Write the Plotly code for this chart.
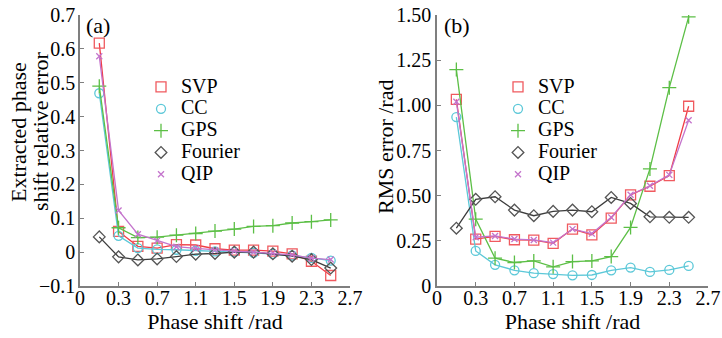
import plotly.graph_objects as go

x = [0.1, 0.3, 0.5, 0.7, 0.9, 1.1, 1.3, 1.5, 1.7, 1.9, 2.1, 2.3, 2.5]

# (a) Extracted phase shift relative error
a_svp = [0.617, 0.061, 0.017, 0.012, 0.022, 0.021, 0.010, 0.006, 0.006, 0.003, -0.005, -0.027, -0.069]
a_cc = [0.469, 0.048, 0.012, 0.008, 0.007, 0.004, 0.002, 0.000, -0.002, -0.005, -0.010, -0.017, -0.025]
a_gps = [0.490, 0.072, 0.043, 0.044, 0.050, 0.055, 0.062, 0.068, 0.076, 0.078, 0.086, 0.090, 0.095]
a_fourier = [0.045, -0.014, -0.023, -0.020, -0.013, -0.006, -0.004, 0.000, 0.000, -0.005, -0.012, -0.022, -0.047]
a_qip = [0.578, 0.123, 0.053, 0.034, 0.016, 0.011, 0.006, 0.003, 0.000, -0.003, -0.008, -0.018, -0.022]

# (b) RMS error /rad
b_svp = [1.033, 0.260, 0.275, 0.256, 0.254, 0.236, 0.315, 0.283, 0.376, 0.504, 0.552, 0.611, 0.995]
b_cc = [0.935, 0.194, 0.117, 0.087, 0.071, 0.066, 0.059, 0.061, 0.087, 0.102, 0.078, 0.089, 0.111]
b_gps = [1.198, 0.370, 0.154, 0.130, 0.139, 0.106, 0.135, 0.139, 0.163, 0.324, 0.648, 1.098, 1.490]
b_fourier = [0.320, 0.480, 0.494, 0.420, 0.389, 0.413, 0.420, 0.411, 0.490, 0.457, 0.383, 0.380, 0.380]
b_qip = [1.020, 0.270, 0.277, 0.260, 0.255, 0.240, 0.315, 0.290, 0.380, 0.505, 0.555, 0.615, 0.917]

names = ["SVP", "CC", "GPS", "Fourier", "QIP"]
x_tickvals = [-0.1, 0.3, 0.7, 1.1, 1.5, 1.9, 2.3, 2.7]
x_ticktext = ["0", "0.3", "0.7", "1.1", "1.5", "1.9", "2.3", "2.7"]
b_tickvals = [0, 0.25, 0.5, 0.75, 1.0, 1.25, 1.5]
b_ticktext = ["0", "0.25", "0.50", "0.75", "1.00", "1.25", "1.50"]

styles = {
    "SVP": dict(line="#f03c46", marker="#f05a5f", symbol="square-open", size=10),
    "CC": dict(line="#5cc8d8", marker="#5cc8d8", symbol="circle-open", size=9),
    "GPS": dict(line="#5cbf46", marker="#5cbf46", symbol="cross-thin-open", size=10),
    "Fourier": dict(line="#3c3c3c", marker="#555555", symbol="diamond-open", size=9),
    "QIP": dict(line="#c474cc", marker="#c474cc", symbol="x-thin-open", size=6),
}

FONT = "Liberation Serif"
W, H = 722, 338
fig = go.Figure()

for series, xa, ya, leg in [
    ([a_svp, a_cc, a_gps, a_fourier, a_qip], "x", "y", "legend"),
    ([b_svp, b_cc, b_gps, b_fourier, b_qip], "x2", "y2", "legend2"),
]:
    for name, vals in zip(names, series):
        s = styles[name]
        fig.add_trace(go.Scatter(
            x=x, y=vals, mode="lines", showlegend=False,
            xaxis=xa, yaxis=ya, hoverinfo="skip",
            line=dict(color=s["line"], width=1.3),
        ))
        fig.add_trace(go.Scatter(
            x=x, y=vals, mode="markers", legend=leg,
            name='<span style="font-size:20px">%s</span>' % name,
            xaxis=xa, yaxis=ya,
            marker=dict(symbol=s["symbol"], size=s["size"], color=s["marker"],
                        line=dict(width=1.3, color=s["marker"])),
        ))

axis_common = dict(
    showline=True, linecolor="#7f7f7f", linewidth=1.5, mirror=False,
    ticks="inside", ticklen=4, tickcolor="#7f7f7f", tickwidth=1.2,
    showgrid=False, zeroline=False, automargin=False,
    tickfont=dict(family=FONT, size=20, color="black"),
)

leg_common = dict(xanchor="left", yanchor="top", bgcolor="rgba(0,0,0,0)",
                  font=dict(family=FONT, size=14.5, color="black"),
                  itemwidth=30, tracegroupgap=0)

ydom = [1 - 286/H, 1 - 15/H]

def px(xp, yp):
    return xp / W, 1 - yp / H

ann_specs = [
    ("Extracted phase", 18, 132, -90),
    ("shift relative error", 40, 132, -90),
    ("RMS error /rad", 385, 147, -90),
    ("(a)", 98, 25, 0),
    ("(b)", 457, 25, 0),
]
anns = []
for text, ax, ay, ang in ann_specs:
    xx, yy = px(ax, ay)
    anns.append(dict(text=text, textangle=ang, showarrow=False,
                     xref="paper", yref="paper", x=xx, y=yy,
                     xanchor="center", yanchor="middle",
                     font=dict(family=FONT, size=22, color="black")))

l1x, l1y = px(141, 71)
l2x, l2y = px(498, 71)

fig.update_layout(
    width=W, height=H,
    margin=dict(l=0, r=0, t=0, b=0, pad=0),
    paper_bgcolor="white", plot_bgcolor="white",
    font=dict(family=FONT, size=20, color="black"),
    xaxis=dict(domain=[80/W, 350/W], range=[-0.1, 2.7], tickvals=x_tickvals,
               ticktext=x_ticktext, anchor="y", ticklabelstandoff=-7,
               title=dict(text="Phase shift /rad", font=dict(family=FONT, size=22), standoff=0),
               **axis_common),
    yaxis=dict(domain=ydom, range=[-0.1, 0.7], dtick=0.1, tick0=0,
               anchor="x", ticklabelstandoff=-1, **axis_common),
    xaxis2=dict(domain=[437/W, 708/W], range=[-0.1, 2.7], tickvals=x_tickvals,
                ticktext=x_ticktext, anchor="y2", ticklabelstandoff=-7,
                title=dict(text="Phase shift /rad", font=dict(family=FONT, size=22), standoff=0),
                **axis_common),
    yaxis2=dict(domain=ydom, range=[0, 1.5], tickvals=b_tickvals,
                ticktext=b_ticktext, anchor="x2", ticklabelstandoff=0, **axis_common),
    legend=dict(x=l1x, y=l1y, **leg_common),
    legend2=dict(x=l2x, y=l2y, **leg_common),
    annotations=anns,
)

fig.write_html("out.html", config={"displayModeBar": False},
               post_script="document.body.style.margin='0';document.body.style.overflow='hidden';")
